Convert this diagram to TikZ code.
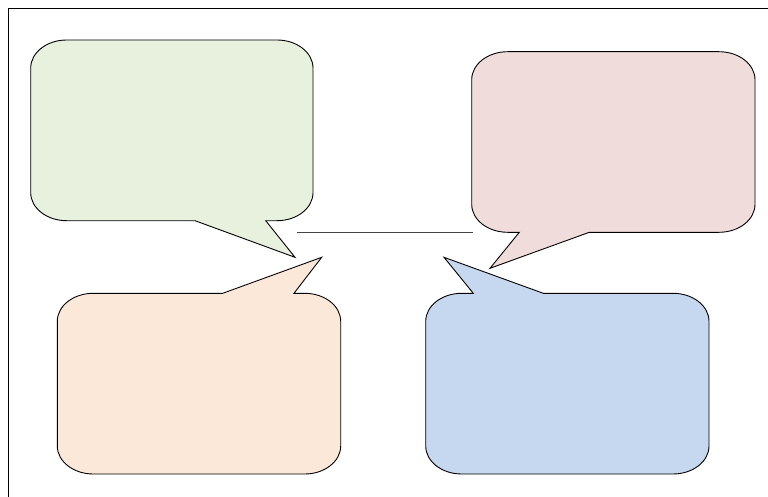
\documentclass[tikz,border=0pt]{standalone}
\usepackage{tikz}
\usetikzlibrary{calc,positioning}
\definecolor{greenfill}{HTML}{E8F0DE}
\definecolor{pinkfill}{HTML}{F1DCDC}
\definecolor{orangefill}{HTML}{FCE8D9}
\definecolor{bluefill}{HTML}{C6D8EF}
\definecolor{linkgray}{HTML}{444444}
\tikzset{bubble/.style={draw=black,line width=0.9pt,line join=miter}}
\begin{document}
\begin{tikzpicture}[x=1pt,y=-1pt]
\useasboundingbox (0,0) rectangle (768,497);
\draw[line width=0.9pt] (8,497) -- (8,8) -- (768,8);

\draw[bubble,fill=greenfill] (30.7,68) arc[start angle=180,end angle=270,x radius=36,y radius=28] -- (277,40) arc[start angle=270,end angle=360,x radius=36,y radius=28] -- (313,192.7) arc[start angle=0,end angle=90,x radius=36,y radius=28] -- (265.7,220.7) -- (295,257.3) -- (195,220.7) -- (66.7,220.7) arc[start angle=90,end angle=180,x radius=36,y radius=28] -- cycle;
\draw[bubble,fill=pinkfill] (471.7,79.7) arc[start angle=180,end angle=270,x radius=36,y radius=28] -- (719,51.7) arc[start angle=270,end angle=360,x radius=36,y radius=28] -- (755,204.3) arc[start angle=0,end angle=90,x radius=36,y radius=28] -- (589.3,232.3) -- (490,268.3) -- (519.3,232.3) -- (507.7,232.3) arc[start angle=90,end angle=180,x radius=36,y radius=28] -- cycle;
\draw[bubble,fill=orangefill] (57.3,321.3) arc[start angle=180,end angle=270,x radius=36,y radius=28] -- (222.7,293.3) -- (321.7,257.3) -- (294,293.3) -- (304.7,293.3) arc[start angle=270,end angle=360,x radius=36,y radius=28] -- (340.7,446) arc[start angle=0,end angle=90,x radius=36,y radius=28] -- (93.3,474) arc[start angle=90,end angle=180,x radius=36,y radius=28] -- cycle;
\draw[bubble,fill=bluefill] (425.7,321.3) arc[start angle=180,end angle=270,x radius=36,y radius=28] -- (473.3,293.3) -- (444,257.3) -- (543.3,293.3) -- (673,293.3) arc[start angle=270,end angle=360,x radius=36,y radius=28] -- (709,446) arc[start angle=0,end angle=90,x radius=36,y radius=28] -- (461.7,474) arc[start angle=90,end angle=180,x radius=36,y radius=28] -- cycle;

\coordinate (linkL) at (297.3,232.7);
\coordinate (linkR) at (472.7,232.7);
\draw[linkgray,line width=1.1pt] (linkL) -- (linkR);
\end{tikzpicture}
\end{document}
